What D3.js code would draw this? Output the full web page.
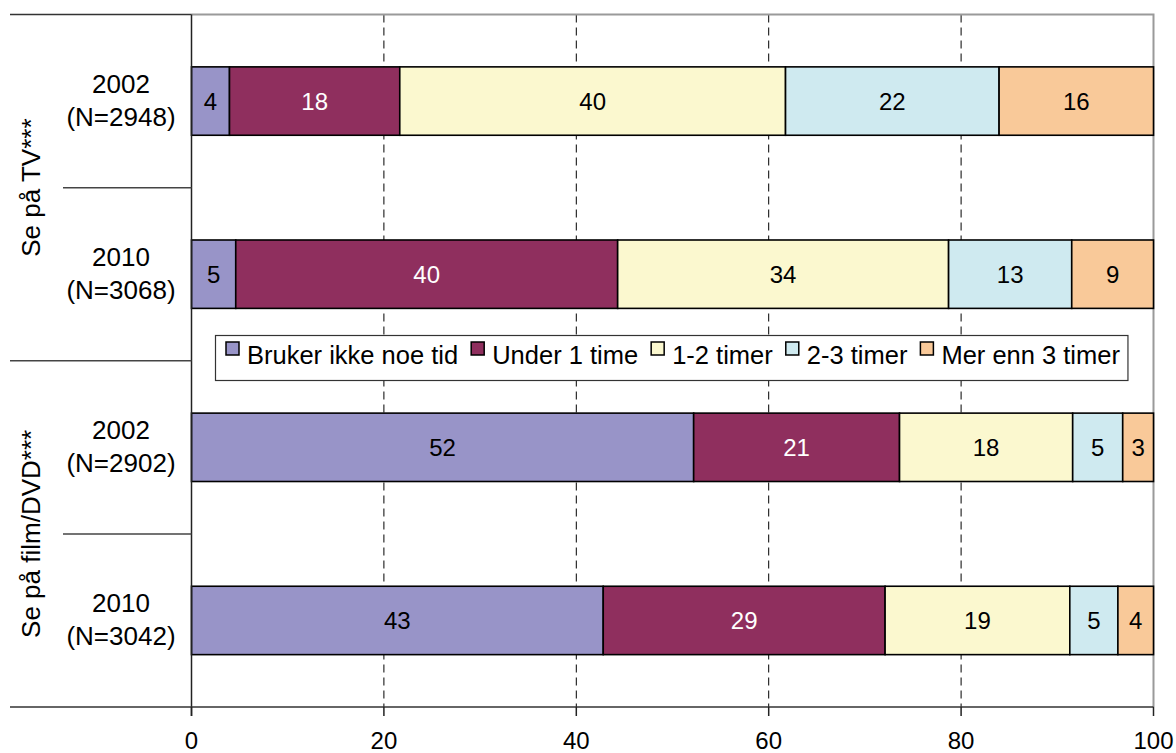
<!DOCTYPE html>
<html><head><meta charset="utf-8">
<script src="https://cdn.jsdelivr.net/npm/d3@7"></script>
<style>
html,body{margin:0;padding:0;background:#fff;}
svg text{font-family:"Liberation Sans",Arial,sans-serif;}
</style></head>
<body><svg id="c" width="1176" height="753"></svg>
<script>
// ---- data ----
const groups = ["Se på TV***", "Se på film/DVD***"];
const years = ["2002", "2010", "2002", "2010"];
const sampleN = ["(N=2948)", "(N=3068)", "(N=2902)", "(N=3042)"];
const rowGroup = [0, 0, 1, 1];
const seriesNames = ["Bruker ikke noe tid", "Under 1 time", "1-2 timer", "2-3 timer", "Mer enn 3 timer"];
const seriesColors = ["#9894c8", "#8f2f5e", "#fbf8cf", "#cfeaf0", "#f9c999"];
const labelColors = ["#000", "#fff", "#000", "#000", "#000"];
const bruker = [3.95, 4.6, 52.2, 42.8];
const under1 = [17.7, 39.7, 21.4, 29.3];
const t12 = [40.1, 34.4, 18.0, 19.2];
const t23 = [22.2, 12.8, 5.2, 5.0];
const over3 = [16.05, 8.5, 3.2, 3.7];
const xTicks = [0, 20, 40, 60, 80, 100];

const seriesVals = [bruker, under1, t12, t23, over3];
const rows = d3.range(years.length);

const svg = d3.select("#c");
const L = 191.5, R = 1153.5, T = 14.5, B = 707;
const x = d3.scaleLinear().domain([0, 100]).range([L, R]);
const y = d3.scaleBand().domain(rows).range([T, B]);
const FS = 26, FL = 25.5, FB = 24, FT = 24;

// gridlines
svg.append("g").selectAll("line").data(xTicks.filter(d => d > 0 && d < 100)).join("line")
  .attr("x1", d => x(d)).attr("x2", d => x(d)).attr("y1", T).attr("y2", B)
  .attr("stroke", "#000").attr("stroke-width", 1).attr("stroke-dasharray", "8,5");

// plot border (top/right gray)
svg.append("path").attr("d", `M${L},${T}H${R}V${B}`).attr("fill", "none")
  .attr("stroke", "#9a9a9a").attr("stroke-width", 2);

// stacked bars
const stacked = rows.map(r => {
  let acc = 0;
  return seriesVals.map((s, i) => { const x0 = acc; acc += s[r]; return {r, i, x0, x1: acc, v: s[r]}; });
});
const barH = y.bandwidth() * 0.395;
const bars = svg.append("g");
stacked.forEach(segs => {
  bars.selectAll(null).data(segs).join("rect")
    .attr("x", d => x(d.x0)).attr("width", d => x(d.x1) - x(d.x0))
    .attr("y", d => y(d.r) + y.bandwidth() / 2 - barH / 2).attr("height", barH)
    .attr("fill", d => seriesColors[d.i]).attr("stroke", "#000").attr("stroke-width", 1.6);
  bars.selectAll(null).data(segs).join("text")
    .attr("x", d => (x(d.x0) + x(d.x1)) / 2).attr("y", d => y(d.r) + y.bandwidth() / 2 + 8.5)
    .attr("text-anchor", "middle").attr("font-size", FB).attr("fill", d => labelColors[d.i])
    .text(d => Math.round(d.v));
});

// axes lines
svg.append("line").attr("x1", L).attr("x2", L).attr("y1", T).attr("y2", B + 9).attr("stroke", "#222").attr("stroke-width", 1.5);
svg.append("line").attr("x1", 10).attr("x2", R).attr("y1", B).attr("y2", B).attr("stroke", "#333").attr("stroke-width", 1.5);
svg.append("line").attr("x1", 10).attr("x2", L).attr("y1", T).attr("y2", T).attr("stroke", "#333").attr("stroke-width", 1.5);

// x ticks and labels
const xg = svg.append("g");
xg.selectAll("line").data(xTicks).join("line")
  .attr("x1", d => x(d)).attr("x2", d => x(d)).attr("y1", B).attr("y2", B + 9)
  .attr("stroke", "#222").attr("stroke-width", 1.5);
xg.selectAll("text").data(xTicks).join("text")
  .attr("x", d => x(d)).attr("y", B + 42).attr("text-anchor", "middle").attr("font-size", FT).text(d => d);

// category separators
const sep = [];
for (let r = 1; r < rows.length; r++) sep.push({yy: y(r), full: rowGroup[r] !== rowGroup[r - 1]});
svg.append("g").selectAll("line").data(sep).join("line")
  .attr("x1", d => d.full ? 10 : 63).attr("x2", L).attr("y1", d => d.yy).attr("y2", d => d.yy)
  .attr("stroke", "#444").attr("stroke-width", 1.5);

// category labels
const cg = svg.append("g").attr("font-size", FS).attr("text-anchor", "middle");
rows.forEach(r => {
  const cy = y(r) + y.bandwidth() / 2;
  cg.append("text").attr("x", 121).attr("y", cy - 8).text(years[r]);
  cg.append("text").attr("x", 121).attr("y", cy + 25).text(sampleN[r]);
});

// group labels
groups.forEach((g, gi) => {
  const rs = rows.filter(r => rowGroup[r] === gi);
  const cy = (y(rs[0]) + y(rs[rs.length - 1]) + y.bandwidth()) / 2;
  svg.append("text").attr("transform", `translate(40,${cy}) rotate(-90)`)
    .attr("text-anchor", "middle").attr("font-size", FS).text(g);
});

// legend
const lg = svg.append("g");
const box = lg.append("rect").attr("x", 215.5).attr("y", 335.5).attr("height", 45).attr("fill", "#fff")
  .attr("stroke", "#333").attr("stroke-width", 1.2);
let cx = 226;
seriesNames.forEach((n, i) => {
  lg.append("rect").attr("x", cx).attr("y", 342).attr("width", 13).attr("height", 13)
    .attr("fill", seriesColors[i]).attr("stroke", "#000").attr("stroke-width", 1.5);
  const t = lg.append("text").attr("x", cx + 21).attr("y", 364).attr("font-size", FL).text(n);
  cx += 21 + t.node().getComputedTextLength() + 13;
});
box.attr("width", cx - 215.5 - 5);
</script></body></html>
